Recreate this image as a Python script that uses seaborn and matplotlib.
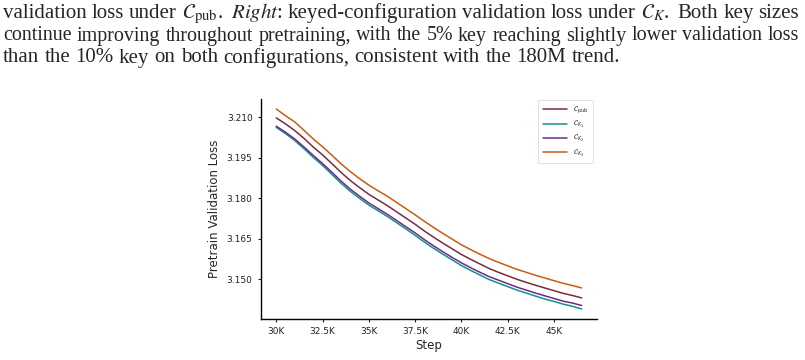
import numpy as np
import pandas as pd
import matplotlib
matplotlib.use('Agg')
import matplotlib.pyplot as plt
import seaborn as sns

# steps (every 500) and validation loss per configuration
steps = [30000, 30500, 31000, 31500, 32000, 32500, 33000, 33500, 34000, 34500,
         35000, 35500, 36000, 36500, 37000, 37500, 38000, 38500, 39000, 39500,
         40000, 40500, 41000, 41500, 42000, 42500, 43000, 43500, 44000, 44500,
         45000, 45500, 46000, 46500]

loss_pub = [3.2098, 3.2076, 3.2051, 3.2022, 3.1990, 3.1961, 3.1929, 3.1896, 3.1866, 3.1840,
            3.1815, 3.1794, 3.1773, 3.1750, 3.1727, 3.1704, 3.1679, 3.1656, 3.1634, 3.1613,
            3.1592, 3.1574, 3.1557, 3.1540, 3.1526, 3.1513, 3.1500, 3.1489, 3.1478, 3.1468,
            3.1458, 3.1448, 3.1440, 3.1431]

loss_k1 = [3.2063, 3.2040, 3.2014, 3.1984, 3.1952, 3.1922, 3.1889, 3.1856, 3.1826, 3.1800,
           3.1775, 3.1754, 3.1733, 3.1710, 3.1687, 3.1663, 3.1638, 3.1615, 3.1593, 3.1572,
           3.1551, 3.1533, 3.1516, 3.1499, 3.1486, 3.1473, 3.1460, 3.1449, 3.1438, 3.1427,
           3.1418, 3.1408, 3.1400, 3.1390]

loss_k2 = [3.2067, 3.2045, 3.2020, 3.1990, 3.1959, 3.1929, 3.1897, 3.1864, 3.1834, 3.1808,
           3.1783, 3.1762, 3.1741, 3.1718, 3.1695, 3.1672, 3.1647, 3.1624, 3.1602, 3.1581,
           3.1561, 3.1543, 3.1526, 3.1510, 3.1497, 3.1484, 3.1471, 3.1460, 3.1449, 3.1439,
           3.1429, 3.1419, 3.1412, 3.1403]

loss_k3 = [3.2131, 3.2106, 3.2083, 3.2052, 3.2020, 3.1991, 3.1960, 3.1928, 3.1899, 3.1873,
           3.1849, 3.1828, 3.1808, 3.1785, 3.1762, 3.1739, 3.1715, 3.1692, 3.1670, 3.1649,
           3.1628, 3.1610, 3.1593, 3.1577, 3.1563, 3.1550, 3.1537, 3.1526, 3.1515, 3.1505,
           3.1495, 3.1485, 3.1477, 3.1468]

labels = [r'$\mathcal{C}_{\mathrm{pub}}$', r'$\mathcal{C}_{K_1}$',
          r'$\mathcal{C}_{K_2}$', r'$\mathcal{C}_{K_3}$']
colors = ['#7b2b3c', '#12908e', '#6b2d87', '#c65d12']

yticks = [3.150, 3.165, 3.180, 3.195, 3.210]
xticks = [30000, 32500, 35000, 37500, 40000, 42500, 45000]
xticklabels = ['30K', '32.5K', '35K', '37.5K', '40K', '42.5K', '45K']

caption = [
    ['validation', 'loss', 'under', r'$\mathcal{C}_{\mathrm{pub}}$.', r'$\mathit{Right}$:',
     'keyed-configuration', 'validation', 'loss', 'under', r'$\mathcal{C}_K$.', 'Both',
     'key', 'sizes'],
    'continue improving throughout pretraining, with the 5% key reaching slightly lower validation loss'.split(),
    'than the 10% key on both configurations, consistent with the 180M trend.'.split(),
]

# long table for seaborn
df = pd.DataFrame({
    'step': steps * 4,
    'loss': loss_pub + loss_k1 + loss_k2 + loss_k3,
    'config': np.repeat(labels, len(steps)),
})

sns.set_style('ticks')
plt.rcParams['font.family'] = ['DejaVu Sans']

fig = plt.figure(figsize=(8.05, 3.6), dpi=100)
ax = fig.add_axes([0.3242, 0.1139, 0.4174, 0.6111])

sns.lineplot(data=df, x='step', y='loss', hue='config', hue_order=labels,
             palette=colors, linewidth=1.1, ax=ax)

ax.set_yticks(yticks)
ax.set_yticklabels([f'{v:.3f}' for v in yticks])
ax.set_xticks(xticks)
ax.set_xticklabels(xticklabels)
ax.tick_params(labelsize=6.5, length=2.5, width=0.8, colors='#222222')
ax.set_xlabel('Step', fontsize=8.5, labelpad=2)
ax.set_ylabel('Pretrain Validation Loss', fontsize=8.5, labelpad=4)
sns.despine(ax=ax)
for s in ['left', 'bottom']:
    ax.spines[s].set_linewidth(1.0)
    ax.spines[s].set_color('black')

leg = ax.legend(loc='upper right', fontsize=5, handlelength=3.4, frameon=True,
                borderpad=0.7, labelspacing=0.45, handletextpad=0.9,
                borderaxespad=0.1, bbox_to_anchor=(0.99, 1.0))
leg.get_frame().set_linewidth(0.5)

# caption text above the chart, word by word; first two lines justified
renderer = fig.canvas.get_renderer()
left_px, right_px = 3, 799
baselines = [18, 40.5, 62.5]
sizes = [15, 14.4, 15]
for i, words in enumerate(caption):
    fs = sizes[i]
    space = 0.25 * fs * 100 / 72
    objs = [fig.text(0, 1 - baselines[i] / 360, w, fontsize=fs, va='baseline',
                     family='Liberation Serif', math_fontfamily='stix') for w in words]
    widths = [t.get_window_extent(renderer).width for t in objs]
    # wider space after a sentence end, like TeX
    extra = [space * 0.6 if w.endswith('.') else 0 for w in words[:-1]]
    if i < 2:
        gap = (right_px - left_px - sum(widths) - sum(extra)) / (len(words) - 1)
    else:
        gap = space
    x = left_px
    for k, (t, w) in enumerate(zip(objs, widths)):
        t.set_x(x / 805)
        x += w + gap + (extra[k] if k < len(extra) else 0)

fig.savefig('out.png', dpi=100)
